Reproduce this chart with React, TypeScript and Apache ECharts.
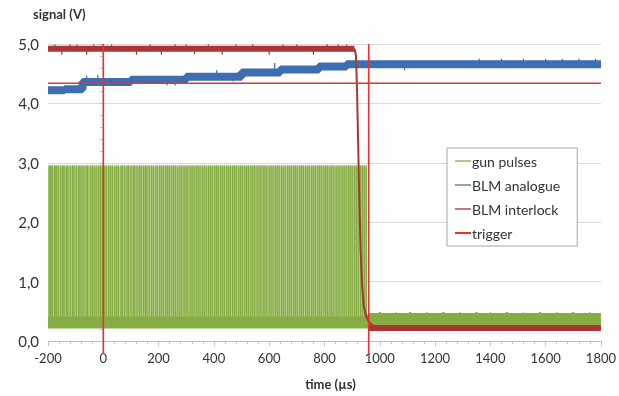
import React, { useEffect, useRef } from "react";
import * as echarts from "echarts";

// ---- gun pulses ----
const gunPulseTimes = [
  -196, -190, -184, -176, -170, -163, -155, -148, -142, -134, -128, -120, -112, -106, -98, -90, -84, -77, -70, -62, -56,
  -47, -40, -33, -26, -18, -11, -4, 4, 11, 19, 26, 33, 41, 48, 55, 64, 70, 78, 86, 92, 100, 108, 114, 122, 130, 137,
  145, 152, 158, 166, 174, 181, 189, 196, 204, 211, 218, 226, 233, 240, 248, 255, 262, 270, 277, 284, 292, 299, 306,
  314, 321, 328, 336, 343, 350, 358, 365, 372, 380, 387, 394, 402, 409, 416, 424, 431, 438, 446, 453, 460, 468, 475,
  482, 490, 497, 504, 512, 519, 526, 534, 541, 548, 556, 563, 570, 578, 585, 592, 600, 607, 614, 622, 629, 636, 644,
  651, 658, 666, 673, 680, 688, 695, 702, 710, 717, 724, 732, 739, 746, 754, 761, 768, 776, 783, 790, 798, 805, 812,
  820, 827, 834, 842, 849, 856, 864, 871, 878, 886, 893, 900, 908, 915, 922, 930, 937, 944, 951,
];
const gunPulseLow = 0.38;
const gunPulseHigh = 2.96;
const gunFillTime = [-200, 955];
const gunFillLevel = [0.4, 2.93];
const gunBaselineTime = [-200, 960, 960, 1800];
const gunBaselineValue = [0.31, 0.31, 0.37, 0.37];
const gunBaselineSpikeTime = [1000, 1060, 1110, 1170, 1230, 1290, 1350, 1400, 1460, 1520, 1580, 1640, 1700, 1760];
const gunBaselineSpikeValue = [0.49, 0.48, 0.49, 0.48, 0.49, 0.48, 0.49, 0.48, 0.49, 0.48, 0.49, 0.48, 0.49, 0.48];

// ---- BLM analogue ----
const blmAnalogueTime = [-200, -140, -75, 100, 300, 500, 640, 780, 880, 1800];
const blmAnalogueValue = [4.22, 4.24, 4.36, 4.4, 4.45, 4.52, 4.57, 4.62, 4.66, 4.67];
const blmAnalogueSpikeTime = [-60, -20, 230, 260, 410, 470, 620, 1090, 1360, 1440, 1520, 1600, 1660, 1720, 1780];
const blmAnalogueSpikeValue = [4.47, 4.48, 4.3, 4.3, 4.56, 4.37, 4.68, 4.56, 4.75, 4.75, 4.75, 4.75, 4.75, 4.75, 4.75];

// ---- BLM interlock ----
const blmInterlockTime = [-200, 905, 910, 914, 918, 922, 926, 931, 936, 942, 950, 961, 980, 1800];
const blmInterlockValue = [4.92, 4.92, 4.9, 4.8, 4.2, 3.3, 2.4, 1.5, 0.95, 0.6, 0.42, 0.32, 0.24, 0.22];
const blmInterlockBandTime = [-200, 908, 961, 1800];
const blmInterlockBandValue = [4.92, 4.92, 0.22, 0.22];
const blmInterlockSpikeTime = [-175, -150, -120, -95, -60, -35, 30, 120, 170, 210, 260, 300, 330, 380, 430, 480, 540, 600, 650, 700, 760, 810, 850, 880];
const blmInterlockSpikeValue = [4.99, 4.82, 4.99, 4.99, 4.82, 4.99, 4.99, 4.82, 4.99, 4.82, 4.99, 4.99, 4.83, 4.99, 4.82, 4.99, 4.99, 4.82, 4.99, 4.99, 4.82, 4.99, 4.99, 4.99];

// ---- trigger ----
const triggerLevel = 4.34;
const triggerTime = [-200, 1800];
const triggerMarkTime = [0, 960];
const triggerMarkRange = [-0.22, 5.0];

// ---- axes ----
const xMin = -200;
const xMax = 1800;
const xStep = 200;
const yMin = 0;
const yMax = 5;
const yStep = 1;

function buildPulses(): any[] {
  const d: any[] = [];
  gunPulseTimes.forEach((t) => {
    d.push([t, gunPulseLow], [t, gunPulseHigh], [t, "-"]);
  });
  return d;
}
function buildSpikes(ts: number[], vs: number[], baseT: number[], baseV: number[]): any[] {
  const d: any[] = [];
  ts.forEach((t, i) => {
    let b = baseV[0];
    for (let k = 0; k < baseT.length; k++) if (baseT[k] <= t) b = baseV[k];
    d.push([t, b], [t, vs[i]], [t, "-"]);
  });
  return d;
}
function zip(a: number[], b: number[]) {
  return a.map((v, i) => [v, b[i]]);
}

const GREEN = "#86ad45";
const GREEN_LIGHT = "#c9dea6";
const BLUE = "#3d6eaf";
const DARKRED = "#ab3535";
const RED = "#ec2f32";
const FONT = "Lato, 'Open Sans', sans-serif";

export default function App() {
  const ref = useRef<HTMLDivElement>(null);
  useEffect(() => {
    if (!ref.current) return;
    const chart = echarts.init(ref.current, null, { renderer: "svg" });
    const triggerData: any[] = [
      ...zip(triggerTime, [triggerLevel, triggerLevel]),
      [triggerTime[1], "-"],
    ];
    triggerMarkTime.forEach((t) => {
      triggerData.push([t, triggerMarkRange[0]], [t, triggerMarkRange[1]], [t, "-"]);
    });
    chart.setOption({
      animation: false,
      textStyle: { fontFamily: FONT },
      grid: { left: 48, right: 18, top: 44, bottom: 55 },
      graphic: [
        {
          type: "text",
          left: 33,
          top: 7,
          style: { text: "signal (V)", font: `bold 13px ${FONT}`, fill: "#333" },
        },
      ],
      legend: {
        orient: "vertical",
        left: 447,
        top: 148,
        width: 128,
        padding: [6, 17, 6, 8],
        itemGap: 10,
        itemWidth: 16,
        itemHeight: 14,
        borderColor: "#a6a6a6",
        borderWidth: 1,
        backgroundColor: "#fff",
        textStyle: { fontSize: 14, color: "#333", fontFamily: FONT, padding: [0, 0, 0, -4] },
        data: [
          { name: "gun pulses", icon: "path://M0 6 H16 V7.6 H0 Z", itemStyle: { color: "#a9b86a" } },
          { name: "BLM analogue", icon: "path://M0 6 H16 V7.6 H0 Z", itemStyle: { color: "#6d8fae" } },
          { name: "BLM interlock", icon: "path://M0 6 H16 V7.6 H0 Z", itemStyle: { color: "#b05b5b" } },
          { name: "trigger", icon: "path://M0 6 H16 V8 H0 Z", itemStyle: { color: RED } },
        ],
      },
      xAxis: {
        type: "value",
        min: xMin,
        max: xMax,
        interval: xStep,
        name: "time (µs)",
        nameLocation: "middle",
        nameGap: 36,
        nameTextStyle: { fontWeight: "bold", fontSize: 13, color: "#333", padding: [0, 0, 0, 12] },
        axisLine: { show: true, lineStyle: { color: "#bfbfbf" } },
        axisTick: { show: true, length: 5, lineStyle: { color: "#bfbfbf" } },
        minorTick: { show: true, splitNumber: 5, length: 3, lineStyle: { color: "#bfbfbf" } },
        splitLine: { show: false },
        axisLabel: { fontSize: 13, color: "#333", margin: 10, formatter: (v: number) => String(v) },
      },
      yAxis: {
        type: "value",
        min: yMin,
        max: yMax,
        interval: yStep,
        axisLine: { show: true, lineStyle: { color: "#d9d9d9" } },
        axisTick: { show: true, length: 4, lineStyle: { color: "#bfbfbf" } },
        minorTick: { show: true, splitNumber: 5, length: 3, lineStyle: { color: "#bfbfbf" } },
        splitLine: { show: true, lineStyle: { color: "#d9d9d9" } },
        axisLabel: {
          fontSize: 15,
          color: "#333",
          margin: 9,
          formatter: (v: number) => v.toFixed(1).replace(".", ","),
        },
      },
      series: [
        {
          name: "gun pulses",
          type: "line",
          data: buildPulses(),
          showSymbol: false,
          symbol: "none",
          connectNulls: false,
          lineStyle: { color: GREEN, width: 1.5 },
          itemStyle: { color: GREEN },
          z: 2,
          markArea: {
            silent: true,
            itemStyle: { color: GREEN_LIGHT },
            data: [[{ coord: [gunFillTime[0], gunFillLevel[0]] }, { coord: [gunFillTime[1], gunFillLevel[1]] }]],
            z: 1,
          },
        },
        {
          name: "gun pulses",
          type: "line",
          data: zip(gunBaselineTime, gunBaselineValue),
          symbol: "none",
          lineStyle: { color: GREEN, width: 12 },
          itemStyle: { color: GREEN },
          z: 2,
        },
        {
          name: "gun pulses",
          type: "line",
          data: buildSpikes(gunBaselineSpikeTime, gunBaselineSpikeValue, gunBaselineTime, gunBaselineValue),
          symbol: "none",
          connectNulls: false,
          lineStyle: { color: GREEN, width: 2 },
          itemStyle: { color: GREEN },
          z: 2,
        },
        {
          name: "BLM analogue",
          type: "line",
          step: "end",
          data: zip(blmAnalogueTime, blmAnalogueValue),
          symbol: "none",
          lineStyle: { color: BLUE, width: 8 },
          itemStyle: { color: BLUE },
          z: 3,
        },
        {
          name: "BLM analogue",
          type: "line",
          data: buildSpikes(blmAnalogueSpikeTime, blmAnalogueSpikeValue, blmAnalogueTime, blmAnalogueValue),
          symbol: "none",
          connectNulls: false,
          lineStyle: { color: BLUE, width: 1.2 },
          itemStyle: { color: BLUE },
          z: 3,
        },
        {
          name: "BLM interlock",
          type: "line",
          data: zip(blmInterlockTime, blmInterlockValue),
          symbol: "none",
          lineStyle: { color: DARKRED, width: 2 },
          itemStyle: { color: DARKRED },
          z: 4,
        },
        {
          name: "BLM interlock",
          type: "line",
          data: [
            ...zip(blmInterlockBandTime.slice(0, 2), blmInterlockBandValue.slice(0, 2)),
            [blmInterlockBandTime[1], "-"],
            ...zip(blmInterlockBandTime.slice(2), blmInterlockBandValue.slice(2)),
          ],
          symbol: "none",
          connectNulls: false,
          lineStyle: { color: DARKRED, width: 6 },
          itemStyle: { color: DARKRED },
          z: 4,
        },
        {
          name: "BLM interlock",
          type: "line",
          data: buildSpikes(blmInterlockSpikeTime, blmInterlockSpikeValue, [-200], [4.92]),
          symbol: "none",
          connectNulls: false,
          lineStyle: { color: DARKRED, width: 1.2 },
          itemStyle: { color: DARKRED },
          z: 4,
        },
        {
          name: "trigger",
          type: "line",
          data: triggerData,
          symbol: "none",
          connectNulls: false,
          clip: false,
          lineStyle: { color: RED, width: 1.6 },
          itemStyle: { color: RED },
          z: 5,
        },
      ],
    });
    return () => chart.dispose();
  }, []);
  return <div ref={ref} style={{ position: "fixed", left: 0, top: 0, width: 619, height: 396 }} />;
}
